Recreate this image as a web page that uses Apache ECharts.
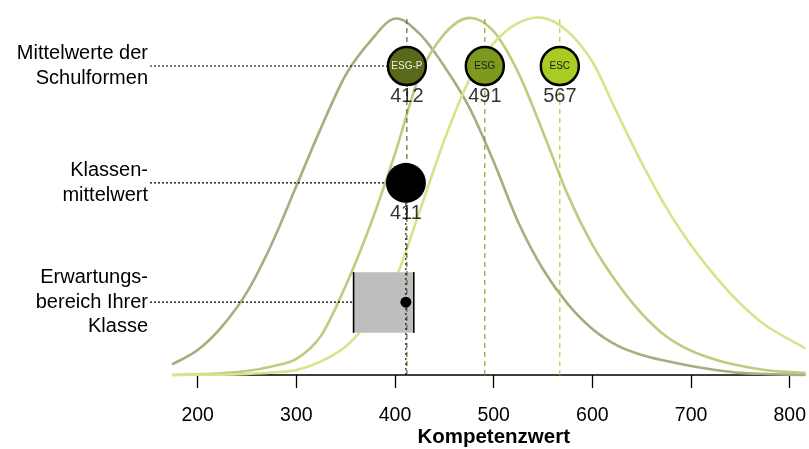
<!DOCTYPE html>
<html><head><meta charset="utf-8">
<script src="https://cdn.jsdelivr.net/npm/echarts@6/dist/echarts.min.js"></script>
<style>html,body{margin:0;padding:0;background:#fff}#c{width:809px;height:449px}</style>
</head><body><div id="c"></div>
<script>
// ---- data ----
const xs = [175,200,225,250,275,300,325,350,375,400,425,450,475,500,525,550,575,600,625,650,675,700,725,750,775,800,815];
const esgpDensity = [0.031,0.070,0.137,0.232,0.367,0.529,0.692,0.840,0.935,0.998,0.955,0.864,0.751,0.597,0.427,0.296,0.199,0.129,0.083,0.056,0.039,0.025,0.014,0.006,0.003,0.001,0.000];
const esgDensity  = [0.000,0.002,0.005,0.011,0.024,0.045,0.110,0.250,0.420,0.620,0.840,0.955,1.000,0.962,0.846,0.680,0.505,0.365,0.258,0.172,0.108,0.068,0.043,0.026,0.014,0.008,0.006];
const escDensity  = [0.000,0.001,0.001,0.003,0.007,0.014,0.038,0.080,0.157,0.266,0.459,0.658,0.825,0.929,0.986,1.000,0.962,0.877,0.734,0.594,0.468,0.363,0.275,0.200,0.140,0.099,0.076];
const schoolNames = ['ESG-P','ESG','ESC'];
const schoolMeans = [412,491,567];
const classMean = 411;
const expectedRange = [358,419];
const xTicks = [200,300,400,500,600,700,800];
const rowLabels = ['Mittelwerte der\nSchulformen','Klassen-\nmittelwert','Erwartungs-\nbereich Ihrer\nKlasse'];
const axisTitle = 'Kompetenzwert';

// ---- layout / style ----
const FONT = '"Liberation Sans", Arial, Helvetica, sans-serif';
const curveColors = ['#a7ad7f','#bfcb80','#d5e58b'];
const meanLineColors = ['#4e5e14','#7c9a1d','#a8cc22'];
const circleColors = ['#58691a','#7d9a1e','#a8cc22'];
const circleText = ['#eef1e0','#1a1a1a','#1a1a1a'];
const ROW_SCHOOL = 0.865, ROW_SCHOOL_LBL = 0.781;
const ROW_CLASS = 0.538, ROW_CLASS_LBL = 0.452;
const BOX_LO = 0.118, BOX_HI = 0.288, ROW_BOX = 0.204;

const chart = echarts.init(document.getElementById('c'), null, {renderer:'canvas'});
const pairs = arr => xs.map((x,i)=>[x, arr[i]]);

// smooth curve drawn through the data points (Catmull-Rom -> Bezier), coordinates via the axes
function curveSeries(arr, color){
  const data = pairs(arr);
  return {type:'custom', z:2, silent:true, data,
    renderItem:(params, api)=>{
      if (params.dataIndex !== 0) return null;
      const p = data.map(d=>api.coord(d));
      let path = 'M' + p[0][0] + ' ' + p[0][1];
      for (let i=0;i<p.length-1;i++){
        const p0 = p[Math.max(0,i-1)], p1 = p[i], p2 = p[i+1], p3 = p[Math.min(p.length-1,i+2)];
        const c1x = p1[0] + (p2[0]-p0[0])/6, c1y = p1[1] + (p2[1]-p0[1])/6;
        const c2x = p2[0] - (p3[0]-p1[0])/6, c2y = p2[1] - (p3[1]-p1[1])/6;
        path += ' C' + c1x + ' ' + c1y + ' ' + c2x + ' ' + c2y + ' ' + p2[0] + ' ' + p2[1];
      }
      return {type:'path', shape:{pathData:path},
        style:{fill:null, stroke:color, lineWidth:2.6, lineJoin:'round', lineCap:'round'}};
    }};
}

const series = [];
[esgpDensity, esgDensity, escDensity].forEach((d,i)=>series.push(curveSeries(d, curveColors[i])));
// expected range box
series.push({type:'custom', z:3, silent:true, data:[[expectedRange[0], expectedRange[1], BOX_LO, BOX_HI]],
  renderItem:(params, api)=>{
    const p1 = api.coord([api.value(0), api.value(3)]);
    const p2 = api.coord([api.value(1), api.value(2)]);
    return {type:'group', children:[
      {type:'rect', shape:{x:p1[0], y:p1[1], width:p2[0]-p1[0], height:p2[1]-p1[1]}, style:{fill:'#bebebe'}},
      {type:'line', shape:{x1:p1[0], y1:p1[1], x2:p1[0], y2:p2[1]}, style:{stroke:'#000', lineWidth:1.6}},
      {type:'line', shape:{x1:p2[0], y1:p1[1], x2:p2[0], y2:p2[1]}, style:{stroke:'#000', lineWidth:1.6}}
    ]};
  }});
// mean dashed lines
schoolMeans.forEach((m,i)=>{
  series.push({type:'line', data:[[m,0],[m,1.0]], symbol:'none', silent:true, z:4,
    lineStyle:{color:meanLineColors[i], width:1.1, type:[5,4]}});
});
// class mean dotted line
series.push({type:'line', data:[[classMean,0],[classMean,ROW_CLASS]], symbol:'none', silent:true, z:4,
  lineStyle:{color:'#000', width:1.1, type:[2,3]}});
// school circles
series.push({type:'scatter', z:6, silent:true, symbolSize:38,
  data: schoolMeans.map((m,i)=>({value:[m, ROW_SCHOOL], name:schoolNames[i],
    itemStyle:{color:circleColors[i], borderColor:'#000', borderWidth:2.5, opacity:1},
    label:{color:circleText[i]}})),
  label:{show:true, position:'inside', formatter:'{b}', fontSize:10, fontFamily:FONT}});
series.push({type:'scatter', z:6, silent:true, symbolSize:1, itemStyle:{color:'transparent'},
  data: schoolMeans.map(m=>[m, ROW_SCHOOL_LBL]),
  label:{show:true, position:'inside', formatter:p=>String(p.value[0]), fontSize:20, color:'#000', fontFamily:FONT}});
// class circle
series.push({type:'scatter', z:6, silent:true, symbolSize:40, itemStyle:{color:'#000', opacity:1},
  data:[[classMean, ROW_CLASS]]});
series.push({type:'scatter', z:6, silent:true, symbolSize:1, itemStyle:{color:'transparent'},
  data:[[classMean, ROW_CLASS_LBL]],
  label:{show:true, position:'inside', formatter:p=>String(p.value[0]), fontSize:20, color:'#000', fontFamily:FONT}});
// class dot in box
series.push({type:'scatter', z:7, silent:true, symbolSize:11, itemStyle:{color:'#000', opacity:1},
  data:[[classMean, ROW_BOX]]});

chart.setOption({
  animation:false,
  backgroundColor:'#fff',
  grid:{left:173, right:0, top:0, bottom:74, containLabel:false},
  xAxis:{type:'value', min:175, max:815,
    axisLine:{show:true, onZero:false, lineStyle:{color:'#000', width:1.5}},
    axisTick:{show:true, length:13, customValues:xTicks, lineStyle:{color:'#000', width:1.3}},
    axisLabel:{customValues:xTicks, fontSize:19.5, color:'#000', margin:31, fontFamily:FONT},
    splitLine:{show:false}},
  yAxis:{type:'value', min:0, max:1.05, show:false, splitLine:{show:false}},
  series
});

// annotations outside the plot: row labels and connector lines
const px = v => chart.convertToPixel({xAxisIndex:0}, v);
const py = v => chart.convertToPixel({yAxisIndex:0}, v);
const rowY = [py(ROW_SCHOOL), py(ROW_CLASS), py(ROW_BOX)];
const rowEnd = [px(schoolMeans[0]) - 19, px(classMean) - 20, px(expectedRange[0])];
const lineH = 24.5;
const graphics = [];
rowLabels.forEach((t,i)=>{
  graphics.push({type:'text', x:148, y:rowY[i], z:10,
    style:{text:t, fill:'#000', font:'20px '+FONT, align:'right', verticalAlign:'middle', lineHeight:lineH}});
  graphics.push({type:'line', z:10, shape:{x1:150, y1:rowY[i], x2:rowEnd[i], y2:rowY[i]},
    style:{stroke:'#000', lineWidth:1.1, lineDash:[2,2]}});
});
graphics.push({type:'text', x:px(500), y:437, z:10,
  style:{text:axisTitle, fill:'#000', font:'bold 20.5px '+FONT, align:'center', verticalAlign:'middle'}});
chart.setOption({graphic:graphics});
</script></body></html>
